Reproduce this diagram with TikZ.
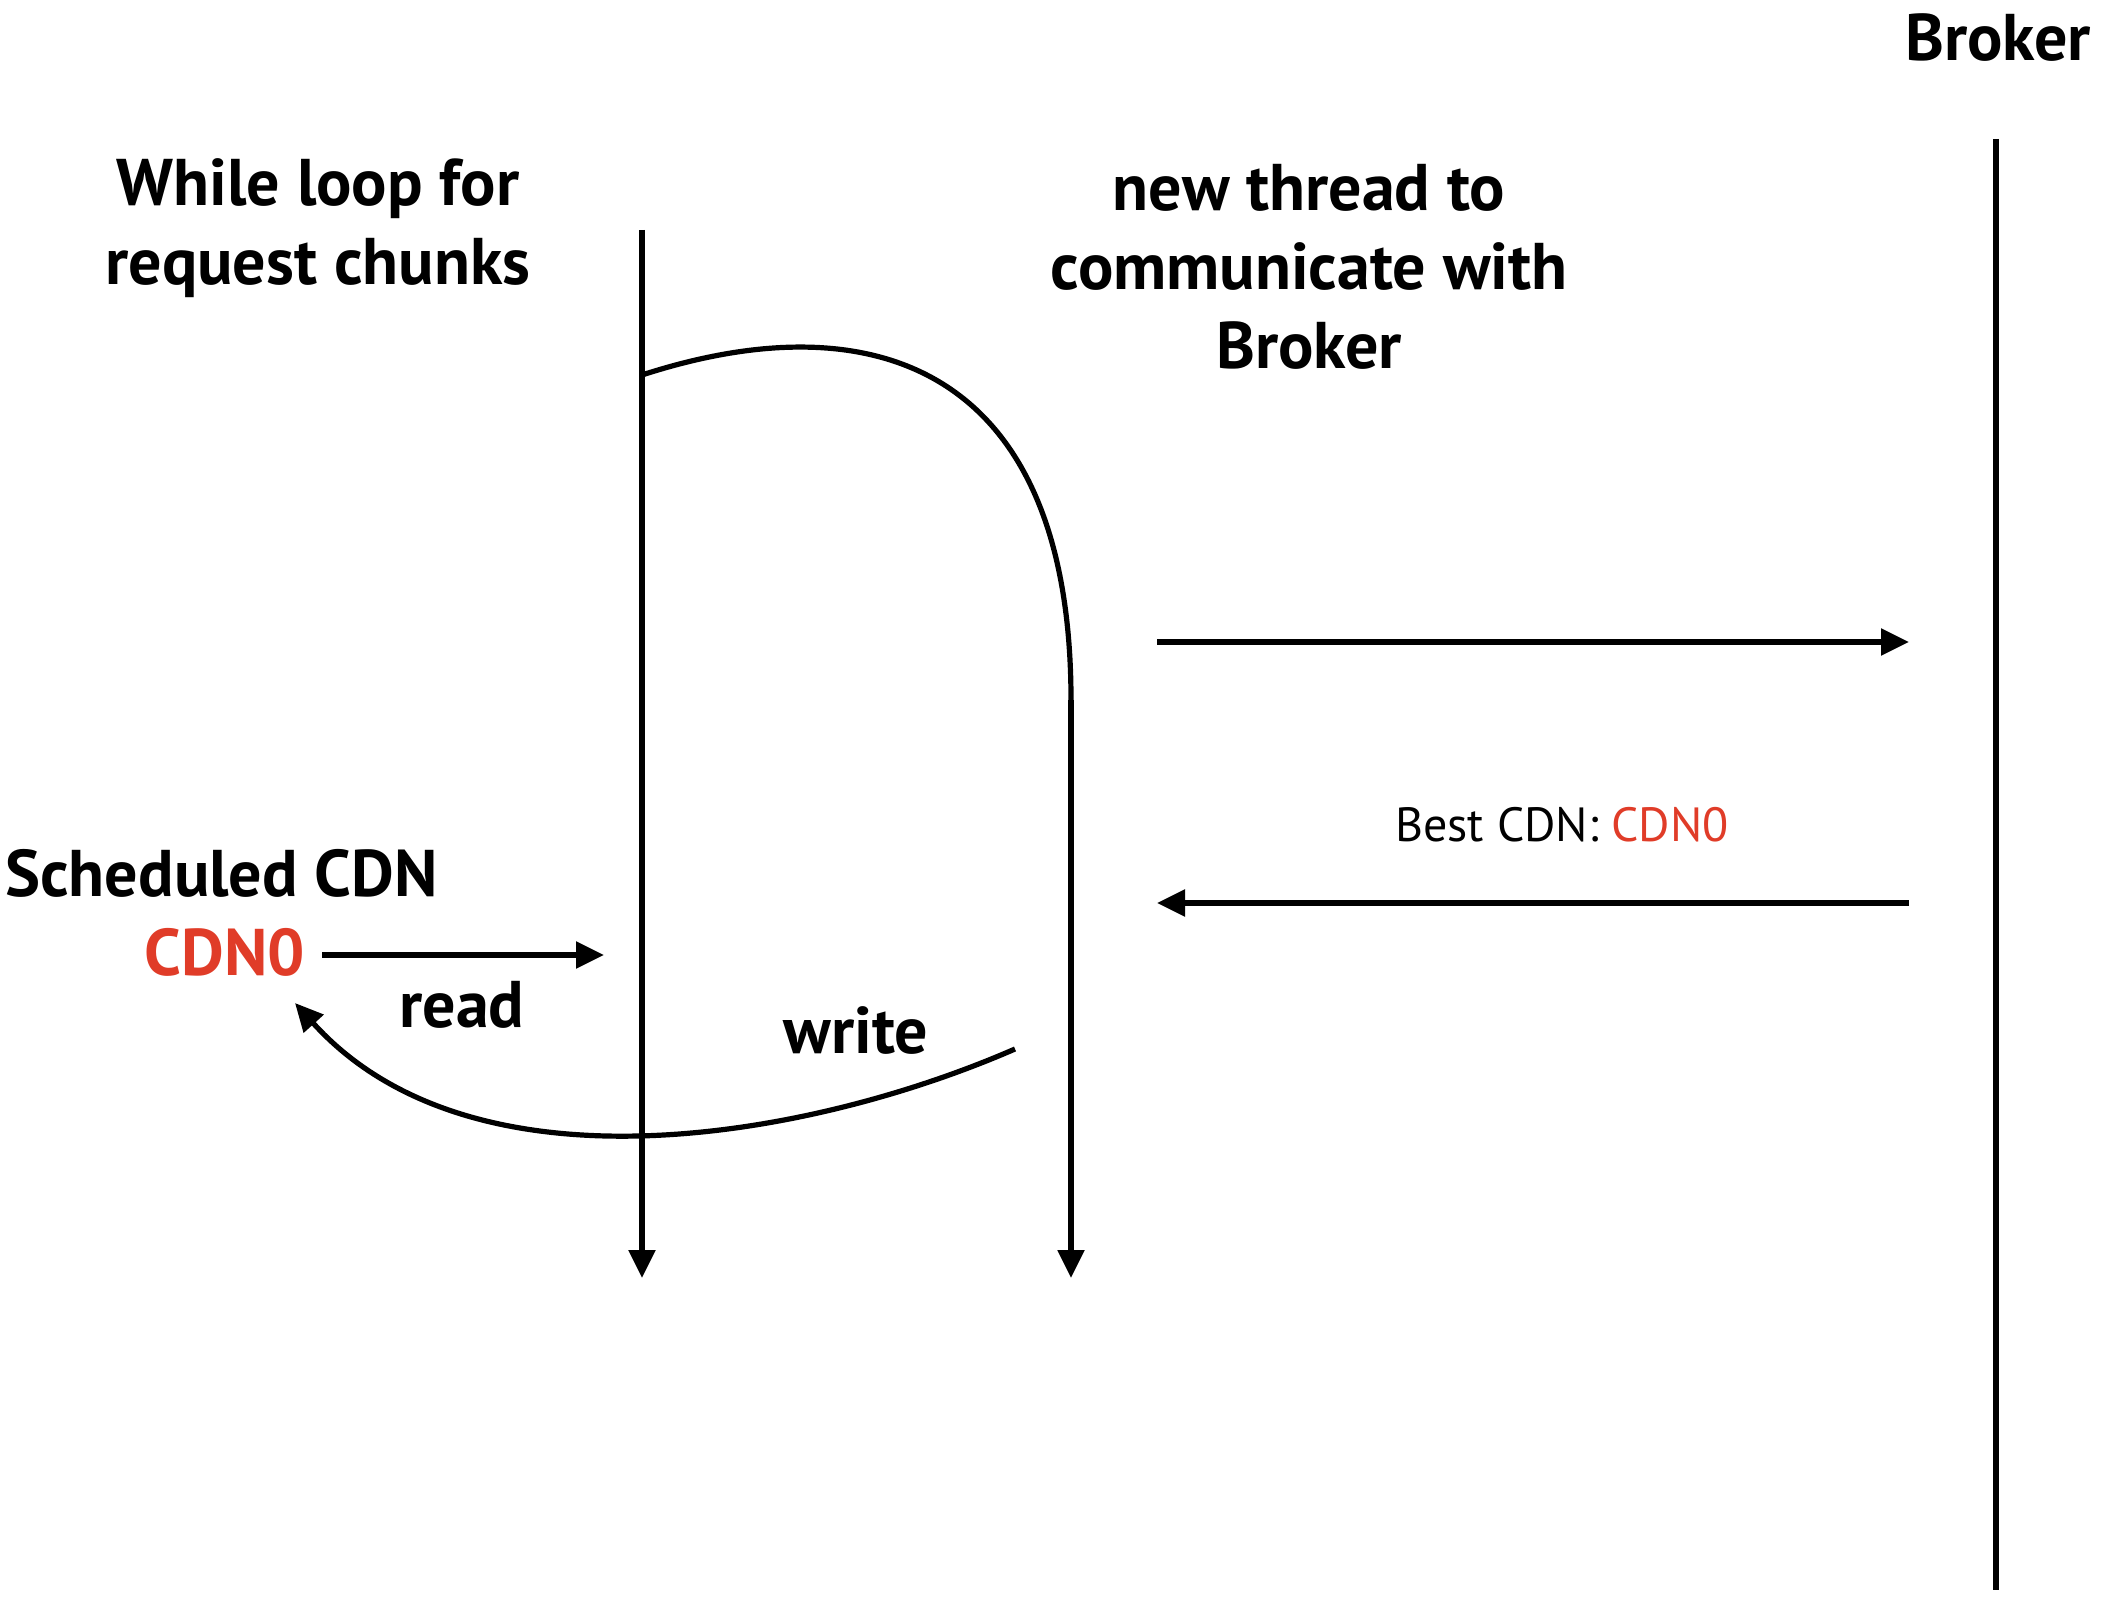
\documentclass[tikz,border=0pt]{standalone}
\usepackage{fontspec}
\setmainfont{PT Sans}
\usetikzlibrary{arrows.meta}
\definecolor{cdnred}{RGB}{224,60,40}
\begin{document}
\begin{tikzpicture}[x=0.5pt,y=-0.5pt,
  line/.style={line width=2.6pt},
  arr/.style={line width=2.6pt,-{Triangle[length=14pt,width=13pt]}},
  title/.style={font=\bfseries\fontsize{33}{39.5}\selectfont, align=center, inner sep=0},
  lbl/.style={font=\bfseries\fontsize{33}{39}\selectfont, inner sep=0},
  small/.style={font=\fontsize{24}{28}\selectfont, inner sep=0}]
\useasboundingbox (0,0) rectangle (2120,1620);
% titles
\node[title] (tloop) at (318,228) {While loop for\\request chunks};
\node[title] (tthread) at (1309,267) {new thread to\\communicate with\\Broker};
\node[title] (tbroker) at (1998,38) {Broker};
% lifelines
\coordinate (Ltop) at (642,230);
\coordinate (Lbot) at (642,1278);
\coordinate (Mtop) at (1071,700);
\coordinate (Mbot) at (1071,1278);
\coordinate (Btop) at (1996,139);
\coordinate (Bbot) at (1996,1590);
\coordinate (fork) at (642,375);
\draw[arr] (Ltop) -- (Lbot);
\draw[arr] (Mtop) -- (Mbot);
\draw[line] (Btop) -- (Bbot);
\draw[line] (fork) .. controls (879,298) and (1071,372) .. (Mtop);
% broker messages
\coordinate (req0) at (1157,642);
\coordinate (req1) at (1909,642);
\coordinate (rep0) at (1909,903);
\coordinate (rep1) at (1157,903);
\draw[arr] (req0) -- (req1);
\draw[arr] (rep0) -- (rep1);
\node[small] (best) at (1562,825) {Best CDN: \textcolor{cdnred}{CDN0}};
% scheduled cdn
\node[lbl, anchor=west] (sched) at (5,873) {Scheduled CDN};
\node[lbl, text=cdnred] (cdn) at (225,952) {CDN0};
\coordinate (readstart) at (322,955);
\coordinate (readend) at (604,955);
\draw[arr] (readstart) -- (readend);
\node[lbl] (read) at (462,1005) {read};
\node[lbl] (write) at (856,1030) {write};
\coordinate (wstart) at (1015,1049);
\coordinate (wend) at (295,1003);
\draw[arr] (wstart) .. controls (811,1138) and (473,1200) .. (wend);
\end{tikzpicture}
\end{document}
